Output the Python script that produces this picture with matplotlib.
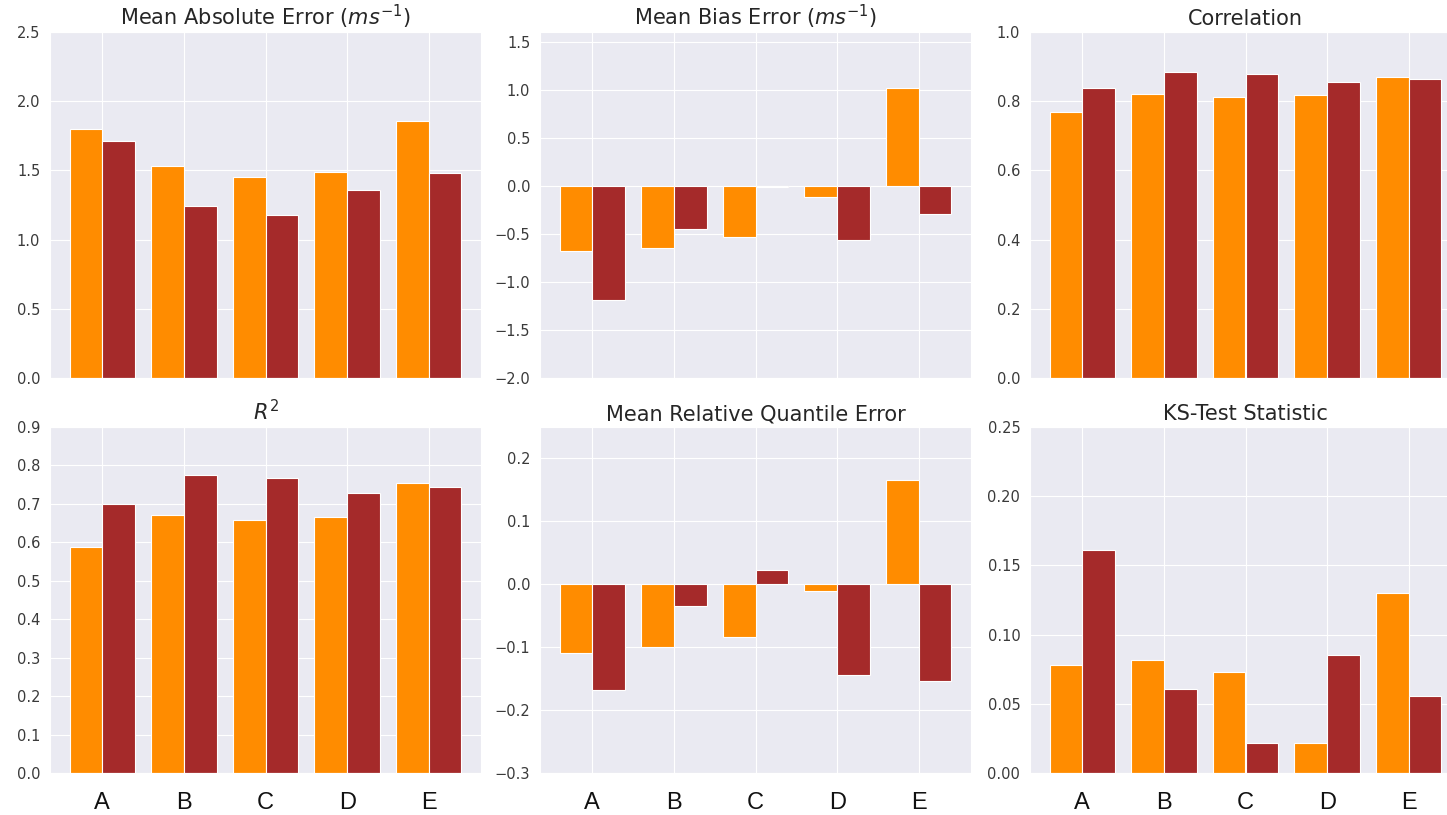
import numpy as np
import matplotlib
matplotlib.use("Agg")
import matplotlib.pyplot as plt
import seaborn as sns

sns.set_style("darkgrid")
plt.rcParams["font.family"] = ["DejaVu Sans"]

models = ["A", "B", "C", "D", "E"]

mae_1 = [1.80, 1.535, 1.45, 1.487, 1.86]
mae_2 = [1.716, 1.246, 1.179, 1.36, 1.48]

mbe_1 = [-0.676, -0.648, -0.528, -0.117, 1.02]
mbe_2 = [-1.19, -0.445, -0.008, -0.562, -0.293]

corr_1 = [0.768, 0.820, 0.813, 0.817, 0.870]
corr_2 = [0.838, 0.883, 0.878, 0.855, 0.863]

r2_1 = [0.588, 0.671, 0.658, 0.665, 0.754]
r2_2 = [0.700, 0.776, 0.768, 0.729, 0.745]

mrqe_1 = [-0.1086, -0.099, -0.0845, -0.0107, 0.166]
mrqe_2 = [-0.168, -0.035, 0.023, -0.145, -0.153]

ks_1 = [0.0778, 0.0816, 0.0727, 0.0217, 0.130]
ks_2 = [0.161, 0.0605, 0.0217, 0.0855, 0.0556]

panels = [
    ("Mean Absolute Error ($ms^{-1}$)", mae_1, mae_2, (0, 2.5), np.arange(0, 2.51, 0.5), "{:.1f}"),
    ("Mean Bias Error ($ms^{-1}$)", mbe_1, mbe_2, (-2.0, 1.6), np.arange(-2.0, 1.51, 0.5), "{:.1f}"),
    ("Correlation", corr_1, corr_2, (0, 1.0), np.arange(0, 1.01, 0.2), "{:.1f}"),
    ("$R^2$", r2_1, r2_2, (0, 0.9), np.arange(0, 0.91, 0.1), "{:.1f}"),
    ("Mean Relative Quantile Error", mrqe_1, mrqe_2, (-0.3, 0.25), np.arange(-0.3, 0.21, 0.1), "{:.1f}"),
    ("KS-Test Statistic", ks_1, ks_2, (0, 0.25), np.arange(0, 0.251, 0.05), "{:.2f}"),
]

W, H = 1447, 815
fig = plt.figure(figsize=(W / 100, H / 100), dpi=100)

lefts = [50, 540, 1030]
tops = [32, 427]
ax_w, ax_h = 431, 346

x = np.arange(len(models))
width = 0.4
c1 = "#FF8C00"
c2 = "#A52A2A"

for i, (title, s1, s2, ylim, yticks, fmt) in enumerate(panels):
    row, col = divmod(i, 3)
    l = lefts[col] / W
    b = 1 - (tops[row] + ax_h) / H
    ax = fig.add_axes([l, b, ax_w / W, ax_h / H])
    ax.bar(x - width / 2, s1, width, color=c1, edgecolor="white", linewidth=0.8)
    ax.bar(x + width / 2, s2, width, color=c2, edgecolor="white", linewidth=0.8)
    ax.set_ylim(*ylim)
    ax.set_yticks(yticks)
    ax.set_yticklabels([fmt.format(v).replace("-", "\u2212") for v in yticks],
                       fontsize=10.5, color="#3a3a3a")
    ax.set_xticks(x)
    if row == 1:
        ax.set_xticklabels(models, fontsize=17, family="Liberation Sans", color="#111111")
        ax.tick_params(axis="x", pad=10)
    else:
        ax.set_xticklabels([])
    ax.set_title(title, fontsize=15, color="#262626", pad=5)

fig.savefig("out.png", dpi=100)
